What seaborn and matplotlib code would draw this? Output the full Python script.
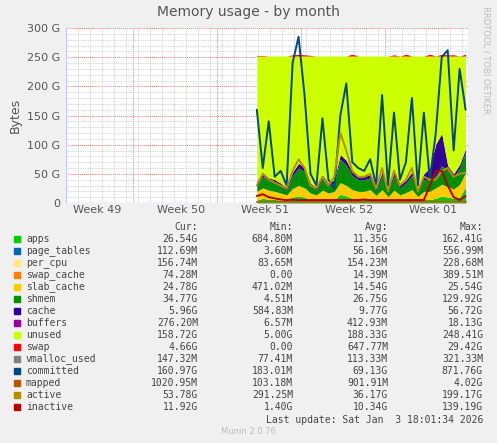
import numpy as np
import pandas as pd
import seaborn as sns
import matplotlib.pyplot as plt
from matplotlib.ticker import MultipleLocator, FixedLocator

sns.set_theme(style="white")
plt.rcParams['font.family'] = ['DejaVu Sans']

# x in days from the left edge of the graph; data covers the last ~17 days
mem_total = 252
committed = [160, 60, 140, 45, 55, 30, 240, 285, 185, 50, 30, 145, 40, 25, 150, 205, 70, 60, 55, 75, 30, 185, 30,
             155, 40, 70, 180, 30, 155, 40, 120, 250, 262, 90, 230, 160]
active = [30, 50, 40, 35, 30, 25, 55, 75, 60, 30, 25, 45, 30, 45, 120, 90, 55, 45, 45, 50, 25, 60, 20, 55, 30, 40,
          60, 20, 45, 40, 40, 55, 60, 45, 50, 52]
shmem = [12, 20, 16, 15, 12, 8, 22, 30, 28, 12, 8, 20, 12, 15, 40, 35, 24, 20, 20, 20, 8, 24, 8, 24, 12, 16, 24,
         8, 20, 20, 20, 32, 28, 20, 28, 35]
slab_cache = [15, 18, 16, 14, 12, 10, 15, 18, 16, 12, 10, 14, 12, 14, 20, 18, 15, 14, 14, 16, 10, 15, 8, 14, 10, 12,
              15, 8, 14, 14, 18, 20, 18, 16, 22, 25]
apps = [5, 8, 6, 6, 5, 4, 10, 12, 10, 5, 4, 8, 5, 6, 15, 12, 8, 6, 6, 7, 3, 8, 3, 8, 4, 6, 8, 3, 6, 6, 8, 12, 10, 8,
        10, 27]
cache = [5, 6, 5, 5, 5, 4, 6, 8, 7, 5, 4, 6, 5, 5, 8, 8, 6, 5, 5, 6, 4, 6, 4, 6, 5, 5, 6, 4, 10, 20, 55, 55, 8, 6,
         6, 6]
buffers = [0.3] * 36
inactive = [12, 15, 10, 8, 6, 5, 6, 5, 5, 5, 5, 5, 5, 5, 5, 5, 5, 5, 6, 5, 5, 5, 5, 5, 5, 5, 5, 5, 5, 30, 55, 55,
            30, 10, 5, 12]
swap = [1, 1, 0, 0, 0, 0, 2, 3, 2, 1, 0, 0, 0, 0, 0, 0, 3, 0, 0, 0, 0, 0, 0, 2, 0, 3, 0, 0, 0, 3, 0, 3, 2, 2, 0, 3]
mapped = [1] * 36

t = np.linspace(15.9, 33.3, 36)
df = pd.DataFrame(dict(t=t, apps=apps, slab_cache=slab_cache, shmem=shmem, cache=cache, buffers=buffers,
                       committed=committed, active=active, inactive=inactive, swap=swap, mapped=mapped))
df["unused"] = mem_total - df[["apps", "slab_cache", "shmem", "cache", "buffers"]].sum(axis=1)

colors = {"apps": "#00CC00", "page_tables": "#0066B3", "per_cpu": "#FFE680", "swap_cache": "#FF8000",
          "slab_cache": "#FFCC00", "shmem": "#008F00", "cache": "#330099", "buffers": "#990099",
          "unused": "#CCFF00", "swap": "#FF0000", "vmalloc_used": "#808080", "committed": "#00487D",
          "mapped": "#B35A00", "active": "#B38F00", "inactive": "#B30000"}

fig = plt.figure(figsize=(4.97, 4.43), dpi=100, facecolor="#F0F0F0")
ax = fig.add_axes([66 / 497, 1 - 203 / 443, 402 / 497, 175 / 443])
ax.set_facecolor("white")

stack = ["apps", "slab_cache", "shmem", "cache", "buffers", "unused", "swap"]
ax.stackplot(df.t, *[df[c] for c in stack], colors=[colors[c] for c in stack], linewidth=0)
for c in ["committed", "mapped", "active", "inactive"]:
    sns.lineplot(x=df.t, y=df[c], color=colors[c], lw=1.4, ax=ax)

ax.set_xlim(0, 33.5)
ax.set_ylim(0, 300)
ax.yaxis.set_major_locator(MultipleLocator(50))
ax.yaxis.set_minor_locator(MultipleLocator(10))
ax.xaxis.set_major_locator(FixedLocator([5.6, 12.6, 19.6, 26.6, 33.6]))
ax.xaxis.set_minor_locator(MultipleLocator(1))
ax.set_xticklabels([])
ax.grid(which="minor", color="#C8C8C8", ls=(0, (1, 1)), lw=0.6)
ax.grid(which="major", color="#E88080", ls=(0, (1, 1)), lw=0.7)
ax.set_axisbelow(True)
ax.set_yticks(range(0, 301, 50))
ax.set_yticklabels(["0", "50 G", "100 G", "150 G", "200 G", "250 G", "300 G"])
ax.tick_params(axis="y", labelsize=8, colors="#555555", length=0, pad=4)
ax.tick_params(axis="x", length=0)
for s in ax.spines.values():
    s.set_visible(False)
ax.axhline(0, color="#C8C8FF", lw=1)
ax.axvline(0, color="#C8C8FF", lw=1)
ax.set_xlabel("")
ax.set_ylabel("Bytes", fontsize=9, color="#555555")
for i, lab in enumerate(["Week 49", "Week 50", "Week 51", "Week 52", "Week 01"]):
    ax.text(2.6 + 7 * i, -12, lab, ha="center", va="center", fontsize=8, color="#555555")

fig.text(0.5, 1 - 12 / 443, "Memory usage - by month", ha="center", va="center", fontsize=10, color="#555555")
fig.text(486 / 497, 1 - 60 / 443, "RRDTOOL / TOBI OETIKER", rotation=270, ha="center", va="center",
         fontsize=6, color="#BBBBBB")

names = ["apps", "page_tables", "per_cpu", "swap_cache", "slab_cache", "shmem", "cache", "buffers", "unused",
         "swap", "vmalloc_used", "committed", "mapped", "active", "inactive"]
cur = ["26.54G", "112.69M", "156.74M", "74.28M", "24.78G", "34.77G", "5.96G", "276.20M", "158.72G", "4.66G",
       "147.32M", "160.97G", "1020.95M", "53.78G", "11.92G"]
mins = ["684.80M", "3.60M", "83.65M", "0.00", "471.02M", "4.51M", "584.83M", "6.57M", "5.00G", "0.00",
        "77.41M", "183.01M", "103.18M", "291.25M", "1.40G"]
avgs = ["11.35G", "56.16M", "154.23M", "14.39M", "14.54G", "26.75G", "9.77G", "412.93M", "188.33G", "647.77M",
        "113.33M", "69.13G", "901.91M", "36.17G", "10.34G"]
maxs = ["162.41G", "556.99M", "228.68M", "389.51M", "25.54G", "129.92G", "56.72G", "18.13G", "248.41G", "29.42G",
        "321.33M", "871.76G", "4.02G", "199.17G", "139.19G"]

mono = dict(family="DejaVu Sans Mono", fontsize=7, color="#444444", va="center")
y0 = 227
for x, h in [(198, "Cur:"), (293, "Min:"), (388, "Avg:"), (483, "Max:")]:
    fig.text(x / 497, 1 - y0 / 443, h, ha="right", **mono)
for i, n in enumerate(names):
    y = 1 - (y0 + 12 * (i + 1)) / 443
    fig.patches.append(plt.Rectangle((14 / 497, y - 3 / 443), 6 / 497, 6 / 443, color=colors[n],
                                     transform=fig.transFigure, figure=fig))
    fig.text(26 / 497, y, n, ha="left", **mono)
    for x, v in [(198, cur[i]), (293, mins[i]), (388, avgs[i]), (483, maxs[i])]:
        fig.text(x / 497, y, v, ha="right", **mono)
fig.text(483 / 497, 1 - 420 / 443, "Last update: Sat Jan  3 18:01:34 2026", ha="right", **mono)
fig.text(0.5, 1 - 432 / 443, "Munin 2.0.76", ha="center", va="center", fontsize=6, color="#BBBBBB")

fig.savefig("out.png", dpi=100, facecolor=fig.get_facecolor())
